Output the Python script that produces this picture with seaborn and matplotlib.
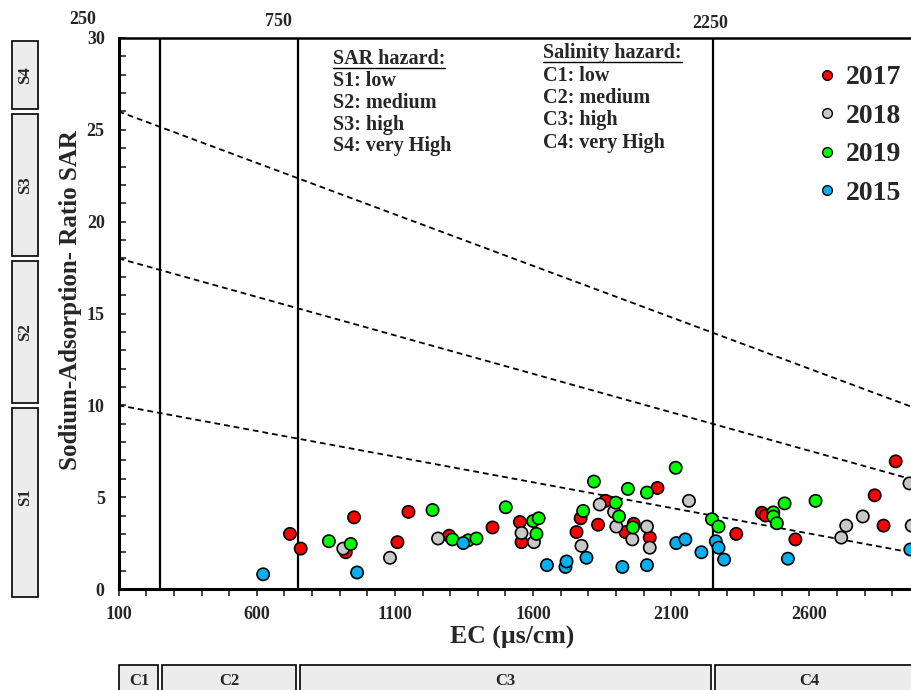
import matplotlib
matplotlib.use("Agg")
import matplotlib.pyplot as plt
import matplotlib.transforms as mtransforms
from matplotlib.patches import Rectangle
from matplotlib.lines import Line2D
import seaborn as sns
import pandas as pd

# ---------------- data ----------------
years = ["2017", "2018", "2019", "2015"]
colors = ["#ff0000", "#c8c8c8", "#00ff00", "#00b0f0"]

ec_2017 = [720, 759, 922, 952, 1109, 1149, 1296, 1453, 1552, 1558, 1757, 1772, 1835,
           1862, 1934, 1964, 2022, 2050, 2335, 2428, 2441, 2549, 2836, 2868, 2912]
sar_2017 = [3.0, 2.2, 2.0, 3.9, 2.55, 4.2, 2.9, 3.35, 3.65, 2.55, 3.1, 3.85, 3.5,
            4.8, 3.1, 3.55, 2.8, 5.5, 3.0, 4.15, 4.0, 2.7, 5.1, 3.45, 6.95]

ec_2018 = [913, 1082, 1256, 1558, 1603, 1775, 1841, 1893, 1901, 1959, 2012, 2022,
           2164, 2715, 2733, 2793, 2962, 2970]
sar_2018 = [2.2, 1.7, 2.75, 3.05, 2.55, 2.35, 4.6, 4.2, 3.4, 2.7, 3.4, 2.25,
            4.8, 2.8, 3.45, 3.95, 5.75, 3.45]

ec_2019 = [861, 940, 1236, 1308, 1365, 1395, 1501, 1600, 1612, 1620, 1781, 1820, 1899,
           1911, 1943, 1961, 2012, 2116, 2247, 2271, 2469, 2469, 2482, 2510, 2622]
sar_2019 = [2.6, 2.45, 4.3, 2.7, 2.65, 2.75, 4.45, 3.7, 3.0, 3.85, 4.25, 5.85, 4.7,
            3.95, 5.45, 3.35, 5.25, 6.6, 3.8, 3.4, 4.17, 3.94, 3.58, 4.66, 4.8]

ec_2015 = [623, 963, 1347, 1650, 1717, 1721, 1793, 1923, 2012, 2118, 2151, 2209,
           2261, 2271, 2291, 2522, 2965]
sar_2015 = [0.8, 0.9, 2.5, 1.3, 1.2, 1.5, 1.7, 1.2, 1.3, 2.5, 2.7, 2.0,
            2.6, 2.25, 1.6, 1.65, 2.15]

# class boundaries
salinity_bounds = [250, 750, 2250]
salinity_band_edges = [100, 250, 750, 2250, 3200]
salinity_labels = ["C1", "C2", "C3", "C4"]
sar_band_edges = [0, 10, 18, 26, 30]
sar_labels = ["S1", "S2", "S3", "S4"]

boundary_ec = [100, 3000]
boundary_s1_s2 = [10, 1.9]
boundary_s2_s3 = [18, 5.85]
boundary_s3_s4 = [26, 9.75]

x_major = [100, 600, 1100, 1600, 2100, 2600]
x_minor = list(range(100, 3001, 100))
y_major = [0, 5, 10, 15, 20, 25, 30]
y_minor = list(range(0, 31, 1))

top_labels = ["250", "750", "2250"]

sar_text = ["SAR hazard:", "S1: low", "S2: medium", "S3: high", "S4: very High"]
sal_text = ["Salinity hazard:", "C1: low", "C2: medium", "C3: high", "C4: very High"]

# ---------------- figure ----------------
sns.set_style("white")
plt.rcParams["font.family"] = ["Liberation Serif", "DejaVu Serif"]
plt.rcParams["font.weight"] = "bold"

W, H = 912, 690
fig = plt.figure(figsize=(W / 100, H / 100), dpi=100)

def fx(px):
    return px / W

def fy(py):
    return 1 - py / H

ax_left, ax_right, ax_top, ax_bot = 118.6, 920, 38, 589
ax = fig.add_axes([fx(ax_left), fy(ax_bot), (ax_right - ax_left) / W, (ax_bot - ax_top) / H])

frames = []
for yr, ec, sar in [("2017", ec_2017, sar_2017), ("2018", ec_2018, sar_2018),
                    ("2019", ec_2019, sar_2019), ("2015", ec_2015, sar_2015)]:
    frames.append(pd.DataFrame({"EC": ec, "SAR": sar, "Year": yr}))
df = pd.concat(frames, ignore_index=True)

# boundary lines
for b in (boundary_s1_s2, boundary_s2_s3, boundary_s3_s4):
    ax.plot(boundary_ec, b, color="black", linestyle=(0, (3.2, 2.2)), linewidth=1.3, zorder=2)
for v in salinity_bounds:
    ax.axvline(v, color="black", linewidth=1.6, zorder=2)

sns.scatterplot(data=df, x="EC", y="SAR", hue="Year", hue_order=years,
                palette=dict(zip(years, colors)), s=78, edgecolor="black",
                linewidth=1.2, ax=ax, legend=False, zorder=3)

ax.set_xlim(100, 3000)
ax.set_ylim(0, 30)
ax.set_xticks(x_major)
ax.set_xticks(x_minor, minor=True)
ax.set_yticks(y_major)
ax.set_yticks(y_minor, minor=True)
ax.tick_params(axis="x", which="both", direction="out", length=5, width=1.2,
               labelsize=13, pad=7, bottom=True)
ax.tick_params(axis="y", which="both", direction="in", length=5, width=1.2,
               labelsize=13, pad=10, left=True)
for lab in ax.get_xticklabels() + ax.get_yticklabels():
    lab.set_fontweight("bold")
ax.set_xlabel("")
ax.set_ylabel("")
for s in ["left", "bottom"]:
    ax.spines[s].set_linewidth(2.2)
    ax.spines[s].set_color("black")
ax.spines["top"].set_linewidth(1.8)
ax.spines["top"].set_color("black")
ax.spines["right"].set_visible(False)

# axis titles
fig.text(fx(71), fy(300), "Sodium-Adsorption- Ratio SAR", rotation=90,
         ha="center", va="center", fontsize=18, fontweight="bold")
fig.text(fx(512), fy(637), "EC (µs/cm)", ha="center", va="center",
         fontsize=18.5, fontweight="bold")

# top labels
for t, (px, py) in zip(top_labels, [(83, 20), (278, 22), (710, 23)]):
    fig.text(fx(px), fy(py), t, ha="center", va="center", fontsize=13, fontweight="bold")

# hazard text blocks
def text_block(lines, x0, ys):
    for i, (t, y) in enumerate(zip(lines, ys)):
        txt = fig.text(fx(x0), fy(y), t, ha="left", va="center", fontsize=14.5,
                       fontweight="bold")
        if i == 0:
            fig.canvas.draw()
            bb = txt.get_window_extent()
            uy = bb.y0 + 1
            fig.add_artist(Line2D([bb.x0 / W, bb.x1 / W], [uy / H, uy / H],
                                  color="black", linewidth=1.0,
                                  transform=fig.transFigure))

text_block(sar_text, 333, [59, 81, 103, 125, 146])
text_block(sal_text, 543, [53, 76, 98, 120, 143])

# legend
handles = [Line2D([0], [0], marker="o", linestyle="none", markerfacecolor=c,
                  markeredgecolor="black", markeredgewidth=1.0, markersize=7)
           for c in colors]
leg = fig.legend(handles, years, loc="upper left", bbox_to_anchor=(fx(819), fy(65)),
                 frameon=False, prop={"family": "Liberation Serif", "weight": "bold", "size": 20},
                 handlelength=0.6, handletextpad=0.35, labelspacing=0.47, borderpad=0,
                 borderaxespad=0)

# left SAR class boxes
trans_y = mtransforms.blended_transform_factory(fig.transFigure, ax.transData)
for i, lab in enumerate(sar_labels):
    lo, hi = sar_band_edges[i], sar_band_edges[i + 1]
    lo_b = lo + 0.15 if i > 0 else -0.45
    hi_b = hi - 0.15
    r = Rectangle((fx(12), lo_b), fx(38) - fx(12), hi_b - lo_b, transform=trans_y,
                  facecolor="#ececec", edgecolor="black", linewidth=1.2, clip_on=False)
    fig.add_artist(r)
    fig.text(fx(25), (lo + hi) / 2, lab, transform=trans_y, rotation=90, ha="center",
             va="center", fontsize=12, fontweight="bold")

# bottom salinity class boxes
trans_x = mtransforms.blended_transform_factory(ax.transData, fig.transFigure)
for i, lab in enumerate(salinity_labels):
    lo, hi = salinity_band_edges[i], salinity_band_edges[i + 1]
    lo_b = lo + 8 if i > 0 else lo
    hi_b = hi - 8
    r = Rectangle((lo_b, fy(700)), hi_b - lo_b, fy(665) - fy(700), transform=trans_x,
                  facecolor="#ececec", edgecolor="black", linewidth=1.2, clip_on=False)
    fig.add_artist(r)
    cx = (lo + hi) / 2 if i < 3 else 2600
    fig.text(cx, fy(681), lab, transform=trans_x, ha="center", va="center",
             fontsize=12, fontweight="bold")

fig.savefig("out.png", dpi=100)
